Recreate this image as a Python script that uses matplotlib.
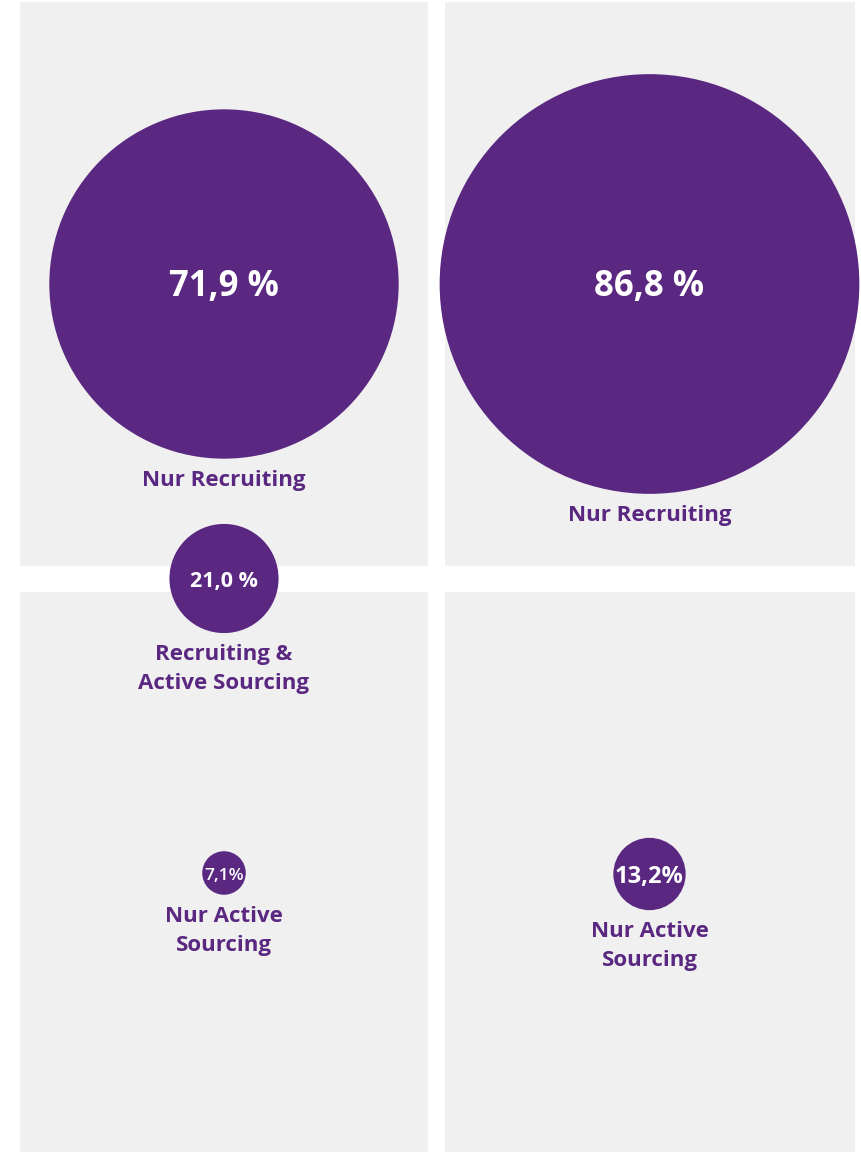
import matplotlib
matplotlib.use('Agg')
import matplotlib.pyplot as plt
from matplotlib.patches import Rectangle, Circle

# ======================
# DATA
# ======================

# left column / right column
left_values = [71.9, 21.0, 7.1]
left_texts = ['71,9 %', '21,0 %', '7,1%']
left_labels = ['Nur Recruiting', 'Recruiting &\nActive Sourcing', 'Nur Active\nSourcing']

right_values = [86.8, 13.2]
right_texts = ['86,8 %', '13,2%']
right_labels = ['Nur Recruiting', 'Nur Active\nSourcing']

# ======================
# LAYOUT (pixels, y downwards)
# ======================

W, H = 861, 1152
purple = '#5a2781'
panel = '#f0f0f0'
font = 'Open Sans'

panels = [(20, 2, 408, 564), (445, 2, 410, 564),
          (20, 592, 408, 560), (445, 592, 410, 560)]
left_x, right_x = 224, 649.5
left_y = [284, 578.5, 873]
right_y = [284, 874]
left_fs = [25, 15.5, 12.5]
right_fs = [25, 17]
left_bold = [True, True, False]
right_bold = [True, True]


def radius(v):
    return 5 + 2.36 * v


def draw_column(ax, x, ys, values, texts, labels, sizes, bolds):
    for y, v, t, lab, fs, b in zip(ys, values, texts, labels, sizes, bolds):
        r = radius(v)
        ax.add_patch(Circle((x, y), r, color=purple, lw=0, zorder=3))
        ax.text(x, y + 3, t, color='white', fontsize=fs, family=font,
                fontweight='bold' if b else 'semibold', ha='center', va='center', zorder=4)
        ax.text(x, y + r + 11, lab, color=purple, fontsize=16, family=font,
                fontweight='bold', ha='center', va='top', linespacing=1.5, zorder=4)


def generate_graph():
    fig = plt.figure(figsize=(W / 100, H / 100), dpi=100)
    ax = fig.add_axes([0, 0, 1, 1])
    ax.set_xlim(0, W)
    ax.set_ylim(H, 0)
    ax.axis('off')

    for (x0, y0, w, h) in panels:
        ax.add_patch(Rectangle((x0, y0), w, h, color=panel, lw=0, zorder=1))

    draw_column(ax, left_x, left_y, left_values, left_texts, left_labels, left_fs, left_bold)
    draw_column(ax, right_x, right_y, right_values, right_texts, right_labels, right_fs, right_bold)

    fig.savefig('out.png', dpi=100, facecolor='white')


if __name__ == '__main__':
    generate_graph()
